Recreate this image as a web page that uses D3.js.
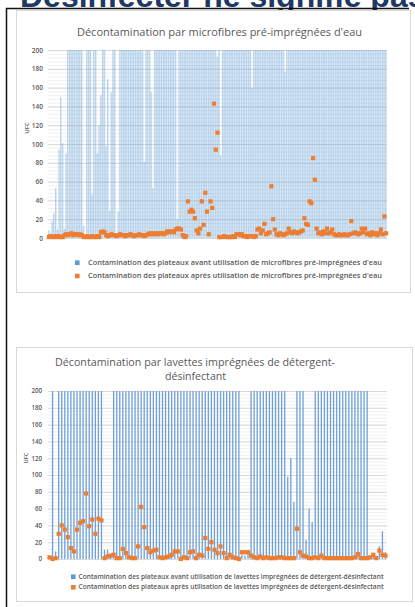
<!DOCTYPE html>
<html>
<head>
<meta charset="utf-8">
<script src="https://cdnjs.cloudflare.com/ajax/libs/d3/7.8.5/d3.min.js"></script>
<style>
body { margin: 0; background: #fff; }
svg { display: block; font-family: "Open Sans", "Liberation Sans", sans-serif; }
</style>
</head>
<body>
<div id="slide"></div>
<script>
var yTicks = [0, 20, 40, 60, 80, 100, 120, 140, 160, 180, 200];

// chart 1 : microfibres pre-impregnees d'eau (195 plateaux)
var avantMicro = [8, 5, 18, 26, 53, 9, 94, 150, 101, 10, 90,
  200, 200, 200, 200, 200, 200, 200, 200, 200,
  13, 4, 200, 200, 200, 46, 200, 200, 90, 120, 152, 200, 200,
  98, 169, 29, 155, 200, 200, 3, 28,
  200, 200, 200, 200, 200, 200, 200, 200, 200, 200, 200, 200, 200, 200,
  81, 200, 200, 200, 155, 53,
  200, 200, 200, 200, 200, 200, 200, 200, 200, 200, 200, 200, 200,
  20,
  200, 200, 200, 200, 200, 200, 200, 200, 200, 200, 200,
  200, 200, 200, 200, 200, 200, 200, 200, 200, 200, 200,
  193, 200, 88,
  200, 200, 200, 200, 200, 200, 200, 200, 200, 200, 200, 200, 200, 200, 200, 200, 200,
  160,
  200, 200, 200, 200, 200, 200, 200, 200, 200, 200, 200, 200, 200, 200, 200, 200, 200, 200,
  177,
  200, 200, 200, 200, 200, 200, 200, 200, 200, 200, 200, 200, 200, 200, 200, 200, 200, 200, 200, 200,
  200, 200, 200, 200, 200, 200, 200, 200, 200, 200, 200, 200, 200, 200, 200, 200, 200, 200, 200, 200,
  200, 200, 200, 200, 200, 200, 200, 200, 200, 200, 200, 200, 200, 200, 200, 200, 200, 200];

var apresMicro = [1, 2, 1, 1, 2, 1, 2, 1, 1,
  3, 4, 3, 4, 5, 3, 4, 4, 3, 4, 3,
  1, 1, 2, 1, 1, 2, 1, 1, 2, 1,
  6, 7, 6,
  3, 2, 3, 4, 3, 3, 2, 3, 4, 3, 3, 2, 3, 3, 4, 3, 2, 3, 3, 4, 3, 3, 2, 3,
  4, 5, 4, 5, 4, 5, 4, 5, 5, 4, 5,
  7, 6, 7, 7, 6,
  9, 10, 10, 9, 3,
  1, 2,
  39, 28, 30, 28, 21, 8, 5, 10, 39, 14, 48, 28, 4, 39, 32, 143, 94, 112,
  1, 1, 1, 2, 1, 1, 1, 1, 2, 1,
  4, 4, 3, 4,
  2, 2, 1, 2, 2, 2, 1, 2,
  9, 10, 5, 8, 15, 4, 5, 6, 55, 20, 9,
  4, 3, 5, 4, 3, 4, 5, 10,
  6, 5, 7, 6, 5, 6, 7, 8,
  21, 15, 14, 39, 37, 85, 62, 10,
  5, 6, 4, 7, 5, 10, 5, 6, 9,
  4, 3, 3, 4, 3, 3, 4, 3, 3, 4,
  18, 5, 6, 5, 4, 5, 10, 6, 10,
  4, 5, 3, 6, 4, 5, 3, 5, 9, 4, 23, 5];

// chart 2 : lavettes detergent-desinfectant (111 plateaux)
var avantLavettes = [3, 200, 9,
  200, 200, 200, 200, 200, 200, 200, 200, 200, 200, 200, 200, 200, 200, 200,
  11, 11, 3,
  200, 200, 200, 200, 200, 200, 200, 200, 200, 200, 200, 200, 200, 200,
  200, 200, 200, 200, 200, 200, 200, 200, 200, 200, 200, 200, 200, 200,
  200, 200, 200, 200, 200, 200, 200, 200, 200, 200, 200, 200, 200, 200,
  5, 4, 6,
  200, 200, 200, 200, 200, 200, 200, 200, 200, 200, 200, 200,
  98, 120, 68, 200, 200, 200, 23, 60, 44,
  200, 200, 200, 200, 200, 200, 200, 200, 200, 200, 200, 200, 200, 200, 200, 200, 200, 200,
  3, 4, 4, 15, 33, 8];

var apresLavettes = [2, 0, 1, 30, 40, 35, 26, 13, 9, 35, 43, 45, 78, 39, 47, 30, 48, 46,
  1, 3, 4, 5, 1, 1, 12, 7, 2, 1, 1, 15, 62, 38, 13, 8, 10, 11,
  2, 1, 2, 3, 5, 9, 9, 0, 2, 1, 8, 9, 1, 5, 4, 25, 12, 20, 11, 7, 15,
  7, 1, 5, 2, 1, 0, 8, 8, 8, 4, 2, 1, 3, 1, 2, 1, 1, 1, 2, 2, 1, 1, 1, 1,
  36, 8, 4, 3, 1, 1, 2, 1, 4, 1, 1, 1, 1, 1, 1, 1, 1, 1, 1, 2, 6, 1, 1, 1, 2, 5, 1, 10, 5, 4];

var titreMicro = "Décontamination  par microfibres pré-imprégnées d'eau";
var titreLavettes = ["Décontamination par lavettes imprégnées de détergent-", "désinfectant"];
var legendeMicro = ["Contamination des plateaux avant utilisation de microfibres pré-imprégnées d'eau",
  "Contamination des plateaux après utilisation de microfibres pré-imprégnées d'eau"];
var legendeLavettes = ["Contamination des plateaux avant utilisation de lavettes imprégnées de détergent-désinfectant",
  "Contamination des plateaux après utilisation de lavettes imprégnées de détergent-désinfectant"];

var blue = "#5b9bd5", orange = "#ed7d31", grey = "#595959";

var svg = d3.select("#slide").append("svg")
  .attr("width", 415)
  .attr("height", 607);

// slide heading, cut at the top edge
svg.append("text")
  .attr("x", 20)
  .attr("y", 7)
  .attr("font-family", "Liberation Sans, Arial, sans-serif")
  .attr("font-weight", "bold")
  .attr("font-size", 32)
  .attr("fill", "#1f3864")
  .text("Désinfecter ne signifie pas");

// black frame
svg.append("path")
  .attr("d", "M6.5,607 V8.5 H409")
  .attr("fill", "none")
  .attr("stroke", "#111")
  .attr("stroke-width", 1.5);

function drawChart(c) {
  var g = svg.append("g");

  g.append("rect")
    .attr("x", c.box[0] + 0.5).attr("y", c.box[1] + 0.5)
    .attr("width", c.box[2]).attr("height", c.box[3])
    .attr("fill", "#fff")
    .attr("stroke", "#d9d9d9");

  var cats = d3.range(1, c.avant.length + 1);
  var x = d3.scaleBand().domain(cats).range([48, 387]).padding(0);
  var y = d3.scaleLinear().domain([0, 200]).range([c.y0, c.y200]).clamp(true);

  // minor and major gridlines
  g.append("g")
    .attr("transform", "translate(48,0)")
    .call(d3.axisLeft(y).tickValues(d3.range(0, 201, 4)).tickSize(-339).tickFormat(""))
    .call(function(a) {
      a.select(".domain").remove();
      a.selectAll("line").attr("stroke", "#f0f0f0");
    });
  g.append("g")
    .attr("transform", "translate(48,0)")
    .call(d3.axisLeft(y).tickValues(yTicks).tickSize(-339).tickFormat(""))
    .call(function(a) {
      a.select(".domain").remove();
      a.selectAll("line").attr("stroke", "#d9d9d9");
    });

  var bars = g.append("g").selectAll("g")
    .data(c.avant)
    .join("g");

  if (c.dense) {
    bars.append("rect")
      .attr("x", function(d, i) { return x(cats[i]); })
      .attr("y", function(d) { return y(d); })
      .attr("width", x.bandwidth())
      .attr("height", function(d) { return y(0) - y(d); })
      .attr("fill", blue)
      .attr("fill-opacity", 0.22);
    bars.append("rect")
      .attr("x", function(d, i) { return x(cats[i]) + 0.2; })
      .attr("y", function(d) { return y(d); })
      .attr("width", 0.6)
      .attr("height", function(d) { return y(0) - y(d); })
      .attr("fill", blue)
      .attr("fill-opacity", 0.4);
  } else {
    bars.append("rect")
      .attr("x", function(d, i) { return x(cats[i]) + x.bandwidth() / 2 - 0.65; })
      .attr("y", function(d) { return y(d); })
      .attr("width", 1.3)
      .attr("height", function(d) { return y(0) - y(d); })
      .attr("fill", "#6fa0d8");
  }

  g.append("g").selectAll("rect")
    .data(c.apres)
    .join("rect")
    .attr("x", function(d, i) { return x(cats[i]) + x.bandwidth() / 2 - 2.1; })
    .attr("y", function(d) { return y(d) - 2.1; })
    .attr("width", 4.2)
    .attr("height", 4.2)
    .attr("fill", orange);

  // y axis labels
  g.append("g")
    .attr("transform", "translate(" + c.labelX + ",0)")
    .call(d3.axisLeft(y).tickValues(yTicks).tickSize(0).tickPadding(0))
    .call(function(a) {
      a.select(".domain").remove();
      a.selectAll("text")
        .attr("font-family", "Open Sans, sans-serif")
        .attr("font-size", c.tickSize)
        .attr("font-weight", 600)
        .attr("fill", grey);
    });

  g.append("text")
    .attr("transform", "translate(" + (c.labelX - 14) + "," + c.ufcY + ") rotate(-90)")
    .attr("text-anchor", "middle")
    .attr("font-size", c.tickSize - 0.5)
    .attr("font-weight", 600)
    .attr("fill", grey)
    .text("UFC");

  // title
  c.title.forEach(function(t, k) {
    g.append("text")
      .attr("x", c.titleX[k])
      .attr("y", c.titleY[k])
      .attr("textLength", c.titleW[k])
      .attr("lengthAdjust", "spacingAndGlyphs")
      .attr("font-size", 11)
      .attr("fill", grey)
      .text(t);
  });

  // legend
  [blue, orange].forEach(function(col, k) {
    g.append("rect")
      .attr("x", c.legX)
      .attr("y", c.legY[k] - 2.3)
      .attr("width", 4.6)
      .attr("height", 4.6)
      .attr("fill", col);
    g.append("text")
      .attr("x", c.legX + c.legGap)
      .attr("y", c.legY[k] + c.legFont * 0.35)
      .attr("textLength", c.legW)
      .attr("lengthAdjust", "spacingAndGlyphs")
      .attr("font-size", c.legFont)
      .attr("font-weight", 600)
      .attr("fill", grey)
      .text(c.legend[k]);
  });
}

drawChart({
  box: [16, 10, 394, 282],
  avant: avantMicro, apres: apresMicro, dense: true,
  y0: 238, y200: 50, labelX: 43, tickSize: 6.5, ufcY: 128,
  title: [titreMicro], titleX: [77], titleY: [36], titleW: [285],
  legend: legendeMicro, legX: 75, legGap: 13, legY: [262.7, 276], legW: 294, legFont: 7
});

drawChart({
  box: [16, 347, 396, 254],
  avant: avantLavettes, apres: apresLavettes, dense: false,
  y0: 559, y200: 391, labelX: 42, tickSize: 6.2, ufcY: 458,
  title: titreLavettes, titleX: [55, 165], titleY: [366, 380], titleW: [280, 61],
  legend: legendeLavettes, legX: 71, legGap: 7.5, legY: [576.7, 587.3], legW: 305, legFont: 6.2
});
</script>
</body>
</html>
